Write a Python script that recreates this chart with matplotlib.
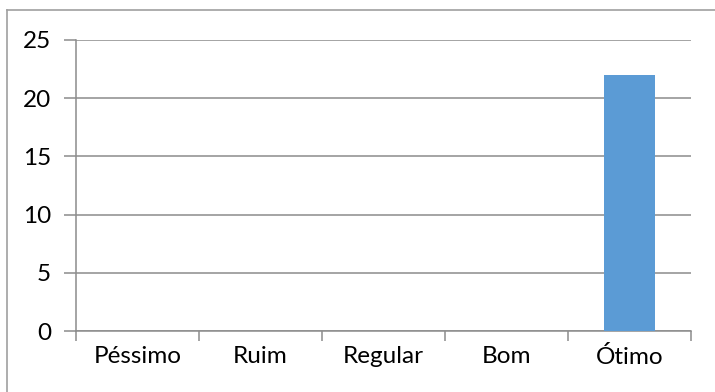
import matplotlib
matplotlib.use("Agg")
import matplotlib.pyplot as plt
from matplotlib.lines import Line2D

categories = ["Péssimo", "Ruim", "Regular", "Bom", "Ótimo"]
values = [0, 0, 0, 0, 22]
yticks = [0, 5, 10, 15, 20, 25]

plt.rcParams["font.family"] = ["Lato", "DejaVu Sans"]

W, H = 715, 392
fig = plt.figure(figsize=(W / 100, H / 100), dpi=100)
ax = fig.add_axes([76 / W, 1 - 331 / H, (691 - 76) / W, (331 - 40) / H])

grid_c = "#8c8c8c"
x = list(range(len(categories)))
ax.bar(x, values, width=0.41, color="#5b9bd5", zorder=3)

ax.set_xlim(-0.5, len(categories) - 0.5)
ax.set_ylim(0, 25)
ax.set_yticks(yticks)
ax.yaxis.grid(True, color=grid_c, linewidth=1.1)
ax.set_axisbelow(True)

# category labels centered, tick marks at category boundaries
ax.set_xticks(x)
ax.set_xticklabels(categories, fontsize=17.5)
ax.tick_params(axis="x", length=0, pad=11)
ax.set_xticks([i - 0.5 for i in range(len(categories) + 1)], minor=True)
ax.tick_params(axis="x", which="minor", length=7, width=1.1, color=grid_c)
ax.tick_params(axis="y", length=9, width=1.1, color=grid_c, labelsize=17.5, pad=9)

for s in ["top", "right"]:
    ax.spines[s].set_visible(False)
for s in ["left", "bottom"]:
    ax.spines[s].set_color(grid_c)
    ax.spines[s].set_linewidth(1.1)

# chart border (top and left visible)
fig.add_artist(Line2D([7 / W, 1.0], [1 - 10 / H, 1 - 10 / H], color="#a0a0a0", lw=1.2))
fig.add_artist(Line2D([7 / W, 7 / W], [0.0, 1 - 10 / H], color="#a0a0a0", lw=1.2))

fig.savefig("out.png", dpi=100)
